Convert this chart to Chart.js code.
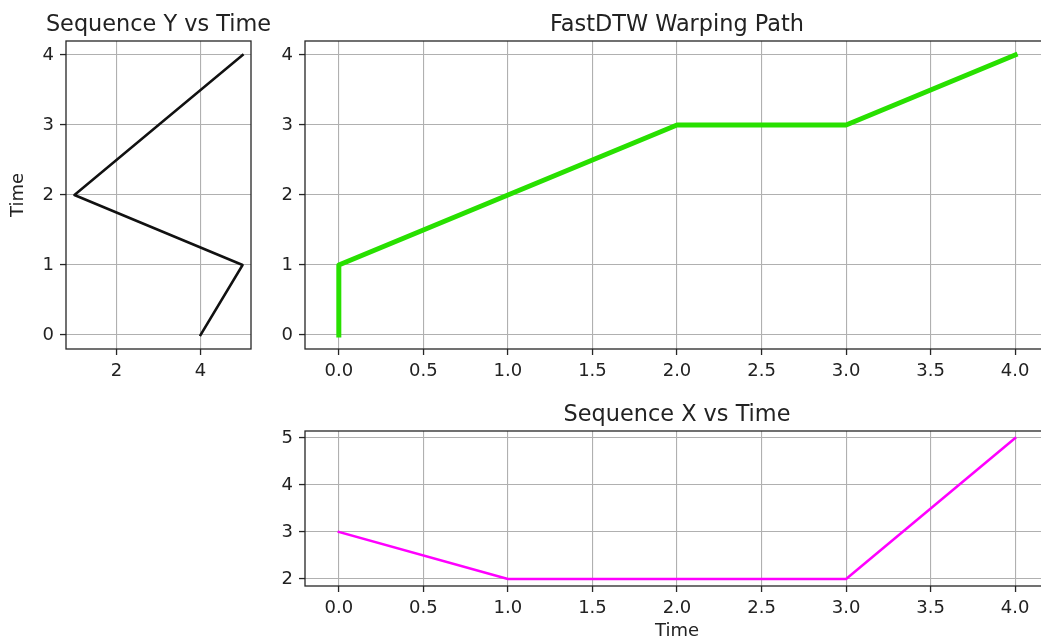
<!DOCTYPE html>
<html>
<head>
<meta charset="utf-8">
<script src="https://cdn.jsdelivr.net/npm/chart.js@4.4.1/dist/chart.umd.min.js"></script>
<style>
  html, body { margin: 0; padding: 0; background: #fff; overflow: hidden; width: 1041px; height: 642px; }
  canvas { position: absolute; }
</style>
</head>
<body>
<canvas id="seqYChart" width="317" height="380" style="left:0px;top:0px"></canvas>
<canvas id="pathChart" width="830" height="380" style="left:262px;top:0px"></canvas>
<canvas id="seqXChart" width="830" height="252" style="left:262px;top:390px"></canvas>
<script>
// data
const time = [0, 1, 2, 3, 4];
const seqX = [3, 2, 2, 2, 5];
const seqY = [4, 5, 1, 3, 5];
const pathI = [0, 0, 1, 2, 3, 4];
const pathJ = [0, 1, 2, 3, 3, 4];

// ticks
const timeTicks = [0, 0.5, 1, 1.5, 2, 2.5, 3, 3.5, 4];
const timeIntTicks = [0, 1, 2, 3, 4];
const seqYTicks = [2, 4];
const seqXTicks = [2, 3, 4, 5];

const FONT = "'DejaVu Sans', 'Liberation Sans', sans-serif";
const TXT = "#222222";
Chart.defaults.font.family = FONT;
Chart.defaults.color = TXT;

// matplotlib-like box around the plot area
const spines = {
	id: "spines",
	afterDatasetsDraw(chart) {
		const a = chart.chartArea;
		const ctx = chart.ctx;
		ctx.save();
		ctx.strokeStyle = "#262626";
		ctx.lineWidth = 1.3;
		ctx.strokeRect(a.left, a.top, a.right - a.left, a.bottom - a.top);
		ctx.restore();
	}
};

// title centred over the plot area, allowed to run past it (no squeezing)
const axesTitle = {
	id: "axesTitle",
	afterDraw(chart, args, opts) {
		if (!opts.text) return;
		const a = chart.chartArea;
		const ctx = chart.ctx;
		ctx.save();
		ctx.font = "22.4px " + FONT;
		ctx.fillStyle = TXT;
		ctx.textAlign = "center";
		ctx.textBaseline = "alphabetic";
		ctx.fillText(opts.text, (a.left + a.right) / 2, a.top - 10.5);
		ctx.restore();
	}
};

function points(xs, ys) {
	return xs.map((x, i) => ({ x: x, y: ys[i] }));
}

function scale(min, max, ticks, fmt, size, isX, title, titlePad) {
	return {
		type: "linear",
		min: min,
		max: max,
		border: { display: false },
		grid: { color: "#b0b0b0", lineWidth: 1.1, tickLength: 6, tickColor: "#262626", tickWidth: 1.3 },
		ticks: {
			font: { size: 18 },
			color: TXT,
			padding: 6,
			maxRotation: 0,
			autoSkip: false,
			callback: fmt
		},
		afterBuildTicks: (s) => { s.ticks = ticks.map(v => ({ value: v })); },
		afterFit: (s) => { if (isX) s.height = size; else s.width = size; },
		title: title ? { display: true, text: title, color: TXT, font: { size: 18 }, padding: titlePad } : { display: false }
	};
}

function makeChart(id, label, xs, ys, color, width, opts) {
	return new Chart(document.getElementById(id), {
		type: "line",
		data: {
			datasets: [{
				label: label,
				data: points(xs, ys),
				borderColor: color,
				borderWidth: width,
				pointRadius: 0,
				tension: 0,
				fill: false,
				borderJoinStyle: "round",
				borderCapStyle: "square"
			}]
		},
		options: Object.assign({
			responsive: false,
			animation: false,
			events: []
		}, opts),
		plugins: [spines, axesTitle]
	});
}

const intFmt = v => String(v);
const decFmt = v => v.toFixed(1);

function pluginOpts(title) {
	return {
		legend: { display: false },
		tooltip: { enabled: false },
		title: { display: false },
		axesTitle: { text: title }
	};
}

makeChart("seqYChart", "Sequence Y", seqY, time, "#111111", 2.5, {
	layout: { padding: { left: 0, right: 66, top: 41, bottom: 0 } },
	plugins: pluginOpts("Sequence Y vs Time"),
	scales: {
		x: scale(0.8, 5.2, seqYTicks, intFmt, 31, true),
		y: scale(-0.2, 4.2, timeIntTicks, intFmt, 66, false, "Time", { top: 7.5, bottom: 0 })
	}
});

makeChart("pathChart", "Warping path", pathI, pathJ, "#28e000", 5, {
	layout: { padding: { left: 0, right: 43, top: 41, bottom: 0 } },
	plugins: pluginOpts("FastDTW Warping Path"),
	scales: {
		x: scale(-0.2, 4.2, timeTicks, decFmt, 31, true),
		y: scale(-0.2, 4.2, timeIntTicks, intFmt, 43, false)
	}
});

makeChart("seqXChart", "Sequence X", time, seqX, "#ff00ff", 2.5, {
	layout: { padding: { left: 0, right: 43, top: 41, bottom: 0 } },
	plugins: pluginOpts("Sequence X vs Time"),
	scales: {
		x: scale(-0.2, 4.2, timeTicks, decFmt, 56, true, "Time", { top: 0, bottom: 0 }),
		y: scale(1.85, 5.15, seqXTicks, intFmt, 43, false)
	}
});
</script>
</body>
</html>
